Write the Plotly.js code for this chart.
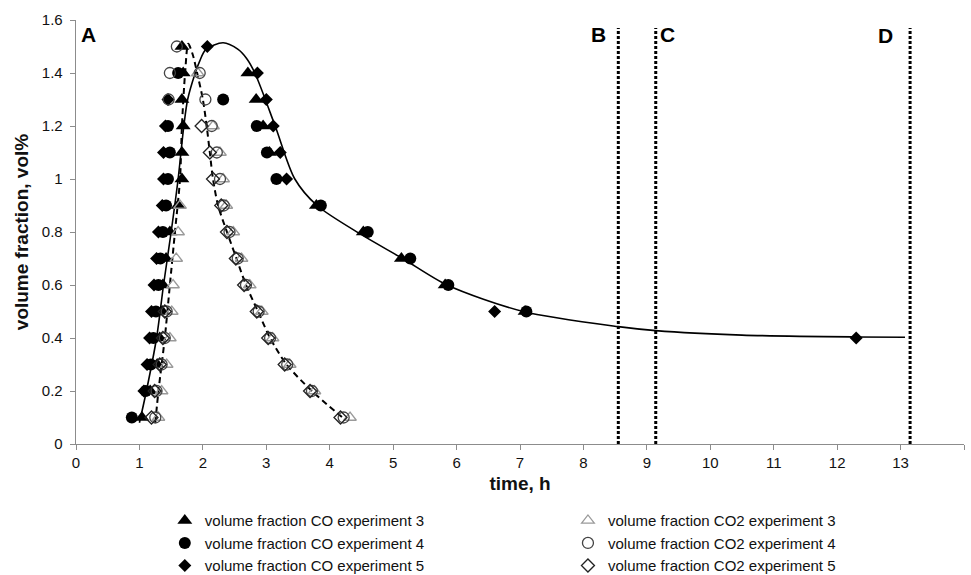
<!DOCTYPE html>
<html>
<head>
<meta charset="utf-8">
<script src="https://cdn.plot.ly/plotly-3.0.1.min.js"></script>
<style>html,body{margin:0;padding:0;background:#fff;}#chart{width:971px;height:575px;}</style>
</head>
<body>
<div id="chart"></div>
<script>
// ---- data ----
const seriesNames = [
  'volume fraction CO experiment 3',
  'volume fraction CO2 experiment 3',
  'volume fraction CO experiment 4',
  'volume fraction CO2 experiment 4',
  'volume fraction CO experiment 5',
  'volume fraction CO2 experiment 5'
];

// CO experiment 3 (filled triangles)
const co3Time = [1.04, 1.17, 1.28, 1.32, 1.36, 1.37, 1.42, 1.48, 1.61, 1.67, 1.67, 1.69, 1.67, 1.69, 1.67, 2.71, 2.84, 2.95, 3.05, 3.79, 4.53, 5.13, 5.82, 7.08];
const co3Vol  = [0.1, 0.2, 0.3, 0.4, 0.5, 0.6, 0.7, 0.8, 0.9, 1.0, 1.1, 1.2, 1.3, 1.4, 1.5, 1.4, 1.3, 1.2, 1.1, 0.9, 0.8, 0.7, 0.6, 0.5];

// CO experiment 4 (filled circles)
const co4Time = [0.88, 1.1, 1.18, 1.22, 1.26, 1.3, 1.33, 1.37, 1.42, 1.45, 1.48, 1.45, 1.61, 2.32, 2.85, 3.01, 3.16, 3.86, 4.6, 5.27, 5.87, 7.1];
const co4Vol  = [0.1, 0.2, 0.3, 0.4, 0.5, 0.6, 0.7, 0.8, 0.9, 1.0, 1.1, 1.2, 1.4, 1.3, 1.2, 1.1, 1.0, 0.9, 0.8, 0.7, 0.6, 0.5];

// CO experiment 5 (filled diamonds)
const co5Time = [1.07, 1.12, 1.16, 1.19, 1.23, 1.27, 1.3, 1.36, 1.38, 1.38, 1.41, 1.45, 2.07, 2.86, 3.0, 3.11, 3.22, 3.32, 6.6, 12.3];
const co5Vol  = [0.2, 0.3, 0.4, 0.5, 0.6, 0.7, 0.8, 0.9, 1.0, 1.1, 1.2, 1.3, 1.5, 1.4, 1.3, 1.2, 1.1, 1.0, 0.5, 0.4];

// CO2 experiment 3 (open grey triangles)
const co2e3Time = [1.3, 1.35, 1.43, 1.48, 1.51, 1.53, 1.58, 1.61, 1.64, 1.92, 2.16, 2.27, 2.32, 2.37, 2.48, 2.61, 2.74, 2.93, 3.1, 3.37, 3.76, 4.32];
const co2e3Vol  = [0.1, 0.2, 0.3, 0.4, 0.5, 0.6, 0.7, 0.8, 0.9, 1.4, 1.2, 1.1, 1.0, 0.9, 0.8, 0.7, 0.6, 0.5, 0.4, 0.3, 0.2, 0.1];

// CO2 experiment 4 (open circles)
const co2e4Time = [1.25, 1.27, 1.35, 1.4, 1.43, 1.46, 1.48, 1.59, 1.95, 2.04, 2.14, 2.22, 2.27, 2.33, 2.42, 2.55, 2.68, 2.88, 3.06, 3.33, 3.72, 4.22];
const co2e4Vol  = [0.1, 0.2, 0.3, 0.4, 0.5, 1.3, 1.4, 1.5, 1.4, 1.3, 1.2, 1.1, 1.0, 0.9, 0.8, 0.7, 0.6, 0.5, 0.4, 0.3, 0.2, 0.1];

// CO2 experiment 5 (open diamonds)
const co2e5Time = [1.19, 1.24, 1.32, 1.37, 1.4, 1.98, 2.11, 2.16, 2.29, 2.38, 2.52, 2.65, 2.85, 3.03, 3.29, 3.69, 4.17];
const co2e5Vol  = [0.1, 0.2, 0.3, 0.4, 0.5, 1.2, 1.1, 1.0, 0.9, 0.8, 0.7, 0.6, 0.5, 0.4, 0.3, 0.2, 0.1];

// fitted CO curve (solid)
const coFitTime = [1.0, 1.11, 1.27, 1.38, 1.5, 1.61, 1.7, 1.76, 1.88, 1.95, 2.05, 2.32, 2.55, 2.69, 2.82, 3.14, 3.45, 3.8, 4.5, 5.15, 5.85, 7.05, 8.55, 9.14, 10.5, 12.3, 13.07];
const coFitVol  = [0.08, 0.2, 0.4, 0.6, 0.8, 1.0, 1.2, 1.3, 1.4, 1.445, 1.49, 1.514, 1.49, 1.455, 1.4, 1.2, 1.0, 0.9, 0.79, 0.7, 0.6, 0.5, 0.443, 0.428, 0.411, 0.404, 0.403];

// fitted CO2 curve (dashed)
const co2FitTime = [1.25, 1.3, 1.4, 1.48, 1.56, 1.64, 1.67, 1.72, 1.77, 1.84, 1.91, 2.0, 2.06, 2.11, 2.16, 2.24, 2.38, 2.53, 2.68, 2.87, 3.06, 3.32, 3.72, 4.25];
const co2FitVol  = [0.08, 0.2, 0.4, 0.6, 0.8, 1.0, 1.2, 1.4, 1.51, 1.47, 1.4, 1.3, 1.2, 1.1, 1.0, 0.9, 0.8, 0.7, 0.6, 0.5, 0.4, 0.3, 0.2, 0.09];

// phase boundaries (dotted verticals) and labels
const phaseTimes = [8.55, 9.14, 13.15];
const phaseTop = 1.57;
const phaseLabels = ['A', 'B', 'C', 'D'];

// x / y ticks
const xTicks = [0,1,2,3,4,5,6,7,8,9,10,11,12,13,14];
const yTicks = [0,0.2,0.4,0.6,0.8,1,1.2,1.4,1.6];

// ---- build traces ----
const FONT = '"Liberation Sans", Arial, sans-serif';
const traces = [];

// dotted vertical lines
const vx = [], vy = [];
phaseTimes.forEach(t => { vx.push(t, t, null); vy.push(0, phaseTop, null); });
traces.push({x: vx, y: vy, mode: 'lines', showlegend: false, hoverinfo: 'skip',
  line: {color: '#000', width: 3, dash: '3px,2px'}});

// fit curves
traces.push({x: coFitTime, y: coFitVol, mode: 'lines', showlegend: false, hoverinfo: 'skip',
  line: {color: '#000', width: 1.6, shape: 'spline', smoothing: 0.8}});
traces.push({x: co2FitTime, y: co2FitVol, mode: 'lines', showlegend: false, hoverinfo: 'skip',
  line: {color: '#000', width: 2, dash: '6px,4px', shape: 'spline', smoothing: 0.8}});

function pts(x, y, name, symbol, color, size, open, legendId) {
  return {x: x, y: y, name: name, mode: 'markers', type: 'scatter', legend: legendId,
    marker: {symbol: symbol, color: color, size: size,
      line: {color: color, width: open ? 1.3 : 0}}};
}

traces.push(pts(co3Time, co3Vol, seriesNames[0], 'triangle-up', '#000', 13, false, 'legend'));
traces.push(pts(co4Time, co4Vol, seriesNames[2], 'circle', '#000', 12, false, 'legend'));
traces.push(pts(co5Time, co5Vol, seriesNames[4], 'diamond', '#000', 10, false, 'legend'));
traces.push(pts(co2e3Time, co2e3Vol, seriesNames[1], 'triangle-up-open', '#9a9a9a', 11, true, 'legend2'));
traces.push(pts(co2e4Time, co2e4Vol, seriesNames[3], 'circle-open', '#444', 11, true, 'legend2'));
traces.push(pts(co2e5Time, co2e5Vol, seriesNames[5], 'diamond-open', '#222', 10, true, 'legend2'));

const labelPos = [[0.2, 1.545], [8.23, 1.545], [9.33, 1.545], [12.77, 1.54]];
const annotations = phaseLabels.map((t, i) => ({
  x: labelPos[i][0], y: labelPos[i][1], xref: 'x', yref: 'y', text: '<b>' + t + '</b>',
  showarrow: false, xanchor: 'center', yanchor: 'middle',
  font: {family: FONT, size: 21, color: '#000'}
}));

const legendCommon = {orientation: 'v', xanchor: 'left', yanchor: 'top', y: -0.142,
  tracegroupgap: 0, itemsizing: 'trace', bgcolor: 'rgba(0,0,0,0)',
  font: {family: FONT, size: 15, color: '#111'}};

const layout = {
  width: 971, height: 575,
  margin: {l: 76, r: 7, t: 20, b: 131, autoexpand: false},
  paper_bgcolor: '#fff', plot_bgcolor: '#fff',
  font: {family: FONT, color: '#111'},
  showlegend: true,
  xaxis: {range: [0, 14], tickvals: xTicks, ticks: 'outside', ticklen: 5, tickcolor: '#8c8c8c',
    showline: true, linecolor: '#8c8c8c', linewidth: 1.3, showgrid: false, zeroline: false,
    tickfont: {family: FONT, size: 15, color: '#111'},
    title: {text: '<b>time, h</b>', font: {family: FONT, size: 19, color: '#111'}, standoff: 6}},
  yaxis: {range: [0, 1.6], tickvals: yTicks, ticks: 'outside', ticklen: 5, tickcolor: '#8c8c8c',
    showline: true, linecolor: '#8c8c8c', linewidth: 1.3, showgrid: false, zeroline: false,
    ticklabelstandoff: 4,
    tickfont: {family: FONT, size: 15, color: '#111'},
    title: {text: '<b>volume fraction, vol%</b>', font: {family: FONT, size: 19, color: '#111'}, standoff: 8}},
  legend: Object.assign({}, legendCommon, {x: 0.1}),
  legend2: Object.assign({}, legendCommon, {x: 0.554}),
  annotations: annotations
};

Plotly.newPlot('chart', traces, layout, {displayModeBar: false, staticPlot: true});
</script>
</body>
</html>
